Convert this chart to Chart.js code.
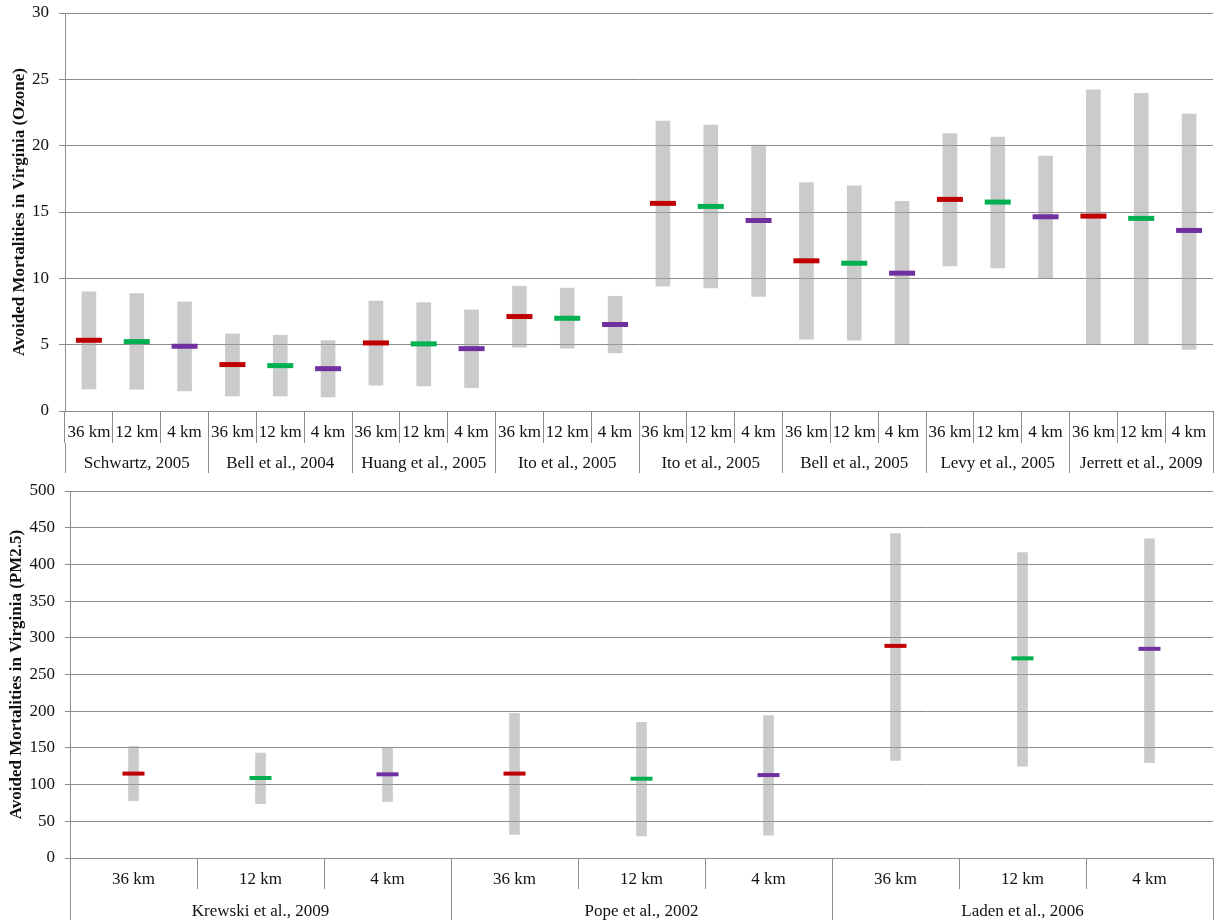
<!DOCTYPE html>
<html>
<head>
<meta charset="utf-8">
<script src="https://cdn.jsdelivr.net/npm/chart.js@4.4.1/dist/chart.umd.min.js"></script>
<style>
	html, body { margin: 0; padding: 0; background: #fff; overflow: hidden; }
	.box { position: relative; width: 1216px; }
	.box canvas { display: block; }
	#ozone_box { height: 478px; }
	#pm_box { height: 444px; }
</style>
</head>
<body>
<div class="box" id="ozone_box"><canvas id="ozone_chart"></canvas></div>
<div class="box" id="pm_box"><canvas id="pm_chart"></canvas></div>
<script>
	// resolutions shared by both panels
	var resolutions = ['36 km', '12 km', '4 km'];

	// ozone panel
	var ozoneStudies = ['Schwartz, 2005', 'Bell et al., 2004', 'Huang et al., 2005', 'Ito et al., 2005',
		'Ito et al., 2005', 'Bell et al., 2005', 'Levy et al., 2005', 'Jerrett et al., 2009'];
	var ozoneLow = [1.66, 1.64, 1.51, 1.13, 1.13, 1.06, 1.94, 1.89, 1.76, 4.81, 4.73, 4.38,
		9.41, 9.28, 8.63, 5.41, 5.33, 5.03, 10.94, 10.79, 10.04, 5.03, 5.03, 4.65];
	var ozoneHigh = [8.98, 8.86, 8.23, 5.81, 5.71, 5.31, 8.28, 8.18, 7.62, 9.41, 9.26, 8.65,
		21.86, 21.56, 20.05, 17.21, 16.98, 15.80, 20.91, 20.65, 19.22, 24.20, 23.95, 22.39];
	var ozoneMid = [5.33, 5.23, 4.88, 3.50, 3.42, 3.19, 5.13, 5.06, 4.70, 7.12, 6.99, 6.52,
		15.65, 15.42, 14.36, 11.32, 11.14, 10.39, 15.95, 15.75, 14.64, 14.69, 14.52, 13.61];
	var ozoneTicks = [0, 5, 10, 15, 20, 25, 30];

	// PM2.5 panel
	var pmStudies = ['Krewski et al., 2009', 'Pope et al., 2002', 'Laden et al., 2006'];
	var pmLow = [78, 74, 77, 32, 30, 31, 133, 125, 130];
	var pmHigh = [152, 143, 150, 197, 185, 194, 442, 416, 435];
	var pmMid = [115, 109, 114, 115, 108, 113, 289, 272, 285];
	var pmTicks = [0, 50, 100, 150, 200, 250, 300, 350, 400, 450, 500];

	var resColors = ['#c00000', '#00b050', '#7030a0'];
	var lineCol = '#8c8c8c';
	var serif = 'Liberation Serif';

	// pin an axis box to a fixed size and drop the label overhang padding
	function fixSize(prop, size){
		return function(scale){
			scale[prop] = size;
			scale.paddingTop = 0;
			scale.paddingBottom = 0;
			scale.paddingLeft = 0;
			scale.paddingRight = 0;
		};
	}

	function buildPanel(id, studies, low, high, mid, yTicks, title, cfg){
		var labels = [], colors = [], ranges = [];
		for(var s = 0; s < studies.length; s++){
			for(var r = 0; r < resolutions.length; r++){
				labels.push(resolutions[r]);
				colors.push(resColors[r]);
			}
		}
		for(var i = 0; i < low.length; i++){
			ranges.push([low[i], high[i]]);
		}

		return new Chart(document.getElementById(id), {
			type: 'bar',
			data: {
				labels: labels,
				datasets: [
					{
						type: 'line',
						data: mid,
						showLine: false,
						pointStyle: 'line',
						pointRadius: cfg.markHalf,
						pointHoverRadius: cfg.markHalf,
						pointBorderWidth: cfg.markWidth,
						pointHoverBorderWidth: cfg.markWidth,
						pointBorderColor: colors,
						pointBackgroundColor: colors,
						order: 0
					},
					{
						data: ranges,
						backgroundColor: 'rgba(160,160,160,0.55)',
						borderWidth: 0,
						borderSkipped: false,
						barThickness: cfg.barWidth,
						order: 1
					}
				]
			},
			options: {
				responsive: true,
				maintainAspectRatio: false,
				animation: false,
				events: [],
				layout: { autoPadding: false, padding: cfg.padding },
				plugins: {
					legend: { display: false },
					tooltip: { enabled: false }
				},
				scales: {
					x: {
						offset: true,
						weight: 0,
						afterFit: fixSize('height', cfg.h1),
						grid: { offset: true, drawOnChartArea: false, tickLength: cfg.tick1, color: lineCol },
						border: { color: lineCol },
						ticks: {
							autoSkip: false, maxRotation: 0, padding: cfg.pad1,
							color: '#111', font: { family: serif, size: 17 }
						}
					},
					x2: {
						type: 'category',
						labels: studies,
						position: 'bottom',
						offset: true,
						weight: 1,
						afterFit: fixSize('height', cfg.h2),
						grid: { offset: true, drawOnChartArea: false, tickLength: cfg.tick2, color: lineCol },
						border: { display: false },
						ticks: {
							autoSkip: false, maxRotation: 0, padding: cfg.pad2,
							color: '#111', font: { family: serif, size: 17 }
						}
					},
					y: {
						min: yTicks[0],
						max: yTicks[yTicks.length - 1],
						afterFit: fixSize('width', cfg.yWidth),
						afterBuildTicks: function(scale){
							scale.ticks = yTicks.map(function(v){ return { value: v }; });
						},
						grid: { color: lineCol, tickLength: cfg.ytick },
						border: { color: lineCol },
						ticks: { padding: 10, color: '#111', font: { family: serif, size: 17 } },
						title: {
							display: true,
							text: title,
							color: '#111',
							padding: cfg.titlePad,
							font: { family: serif, size: 17, weight: 'bold' }
						}
					}
				}
			}
		});
	}

	buildPanel('ozone_chart', ozoneStudies, ozoneLow, ozoneHigh, ozoneMid, ozoneTicks,
		'Avoided Mortalities in Virginia (Ozone)', {
			markHalf: 13, markWidth: 5, barWidth: 14,
			tick1: 32, pad1: -21, h1: 32,
			tick2: 30, pad2: -20, h2: 31,
			ytick: 6, titlePad: 9, yWidth: 65,
			padding: { left: 0, right: 3, top: 13, bottom: 4 }
		});

	buildPanel('pm_chart', pmStudies, pmLow, pmHigh, pmMid, pmTicks,
		'Avoided Mortalities in Virginia (PM2.5)', {
			markHalf: 11, markWidth: 4, barWidth: 10,
			tick1: 31, pad1: -20, h1: 31,
			tick2: 31, pad2: -19, h2: 33,
			ytick: 5, titlePad: 6, yWidth: 70,
			padding: { left: 0, right: 3, top: 13, bottom: 0 }
		});
</script>
</body>
</html>
